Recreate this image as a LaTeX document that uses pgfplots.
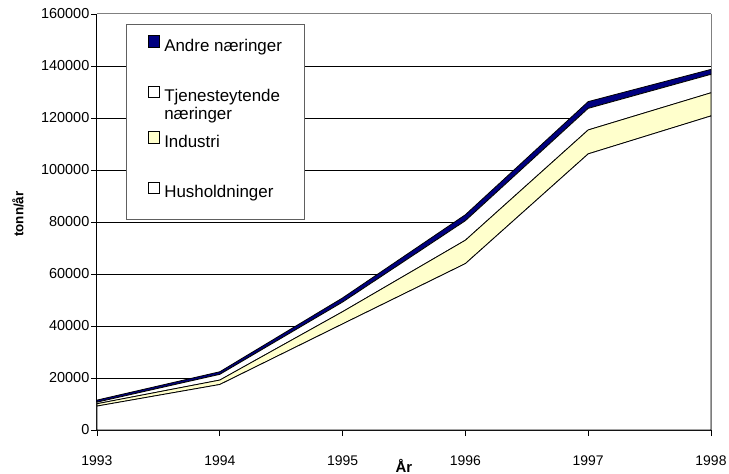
\documentclass[border=0pt]{standalone}
\usepackage{pgfplots}
\pgfplotsset{compat=1.18}
\usepackage{fontspec}
\setmainfont{Liberation Sans}
\definecolor{navyA}{HTML}{000080}
\definecolor{lightY}{HTML}{FFFFCC}
\newcommand{\lsq}[3]{\rule[-#2bp]{0pt}{#3bp}\tikz[baseline=0pt]\draw[#1, line width=0.8bp] (0bp,4.3bp) rectangle (11bp,15.5bp);}
\begin{document}
\begin{tikzpicture}
\path[use as bounding box] (-97bp,-44bp) rectangle (632bp,430bp);
\begin{axis}[
  scale only axis,
  width=614bp, height=416bp,
  xmin=1993, xmax=1998, ymin=0, ymax=160000,
  xtick={1993,1994,1995,1996,1997},
  xticklabels={1993,1994,1995,1996,1997},
  extra x ticks={1998},
  extra x tick labels={1998},
  extra x tick style={xmajorgrids=true, grid style={gray, line width=1bp}},
  ytick={0,20000,40000,60000,80000,100000,120000,140000},
  yticklabels={0,20000,40000,60000,80000,100000,120000,140000},
  extra y ticks={160000},
  extra y tick labels={160000},
  extra y tick style={grid style={gray, line width=1bp}},
  ymajorgrids=true,
  grid style={black, line width=0.8bp},
  axis lines*=left,
  axis line style={black, line width=1bp},
  tick align=outside,
  major tick length=6bp,
  tick style={black, line width=0.8bp},
  scaled y ticks=false,
  xticklabel style={font=\fontsize{14}{16}\selectfont, anchor=base, yshift=-29bp},
  yticklabel style={font=\fontsize{14.5}{16}\selectfont, anchor=east, inner sep=0pt, xshift=-1.5bp},
  xlabel={År},
  ylabel={tonn/år},
  xlabel style={font=\bfseries\fontsize{15}{17}\selectfont, at={(axis description cs:0.5,-0.101)}, anchor=base},
  ylabel style={font=\bfseries\fontsize{13.5}{15}\selectfont, at={(axis description cs:-0.1287,0.519)}, anchor=center},
  stack plots=y,
]
\addplot[draw=black, line width=0.8bp, fill=white] coordinates {
(1993,9200) (1994,17500) (1995,40800) (1996,64000) (1997,106200) (1998,120800)} \closedcycle;
\addplot[draw=black, line width=0.8bp, fill=lightY] coordinates {
(1993,900) (1994,1700) (1995,4700) (1996,9000) (1997,9200) (1998,8900)} \closedcycle;
\addplot[draw=black, line width=0.8bp, fill=white] coordinates {
(1993,600) (1994,2200) (1995,3700) (1996,7500) (1997,8300) (1998,7100)} \closedcycle;
\addplot[draw=black, line width=0.8bp, fill=navyA] coordinates {
(1993,800) (1994,1000) (1995,1600) (1996,2300) (1997,2600) (1998,1900)} \closedcycle;
\node[anchor=north west, draw={rgb,255:red,96;green,96;blue,96}, line width=1bp, fill=white,
  inner xsep=21.7bp, inner ysep=11bp, font=\fontsize{17}{17.5}\selectfont]
  at (axis description cs:0.0472,0.976) {%
  \renewcommand{\arraystretch}{0}%
  \begin{tabular}{@{}l@{\hspace{4.3bp}}l@{}}
  \lsq{fill=navyA}{34.6}{10} & \parbox[t]{119bp}{Andre næringer} \\
  \lsq{fill=white}{29.6}{13} & \parbox[t]{119bp}{Tjenesteytende\newline næringer} \\
  \lsq{fill=lightY}{34.6}{13} & \parbox[t]{119bp}{Industri} \\
  \lsq{fill=white}{11}{13} & \parbox[t]{119bp}{Husholdninger}
  \end{tabular}};
\end{axis}
\end{tikzpicture}
\end{document}
